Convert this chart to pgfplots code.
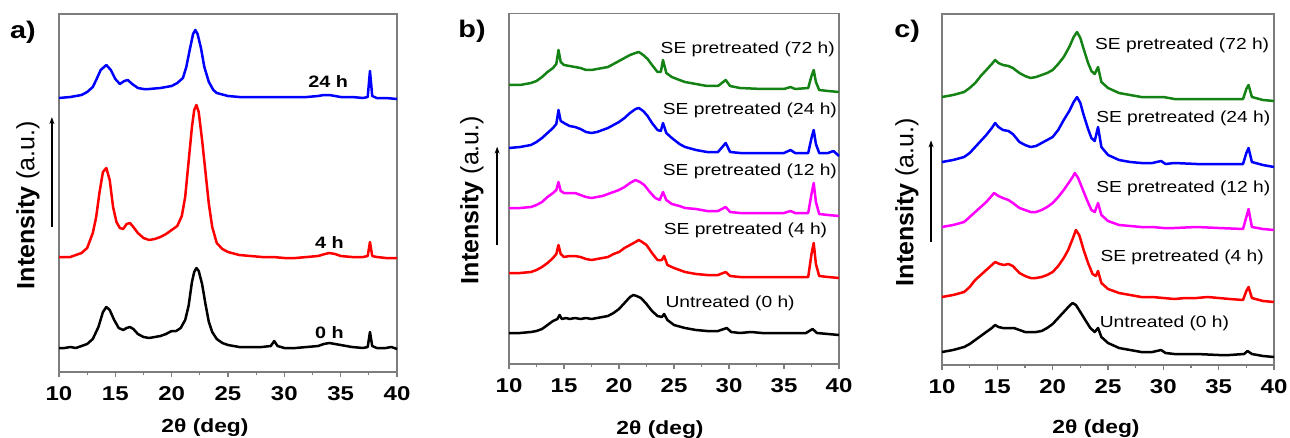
\documentclass[border=0pt]{standalone}
\usepackage{fontspec}
\setmainfont{Liberation Sans}[FakeStretch=1.2]
\newfontfamily\ylfont{Liberation Sans}
\usepackage{pgfplots}
\pgfplotsset{compat=1.18}
\usetikzlibrary{arrows.meta}
\definecolor{framegray}{RGB}{125,125,125}
\definecolor{cgreen}{RGB}{20,130,20}
\definecolor{cblue}{RGB}{0,0,255}
\definecolor{cred}{RGB}{255,0,0}
\definecolor{cmag}{RGB}{255,0,255}
\tikzset{lbl/.style={font=\fontsize{16}{16}\selectfont, anchor=center},
  blbl/.style={font=\bfseries\fontsize{16.5}{16}\selectfont, anchor=center}}
\pgfplotsset{
  xrd/.style={
    scale only axis, clip=false,
    xmin=10, xmax=40, ymin=0,
    xtick={10,15,...,40}, minor x tick num=1, ytick=\empty,
    xtick pos=left, tick align=outside,
    major tick length=5pt, minor tick length=3pt,
    axis line style={framegray, line width=1.6pt},
    every tick/.style={framegray, line width=1.3pt},
    /pgf/number format/assume math mode=true,
    xticklabel style={font=\bfseries\fontsize{20}{20}\selectfont, anchor=base, yshift=-23pt},
    xlabel={\bfseries 2θ (deg)},
    xlabel style={font=\fontsize{19}{19}\selectfont, at={(axis description cs:0.5,0)}, anchor=base},
    ylabel={{\bfseries Intensity} (a.u.)},
    ylabel style={font=\ylfont\fontsize{25}{25}\selectfont, anchor=center},
    every axis plot/.append style={line width=2.5pt, line join=round},
  }
}
\begin{document}
\begin{tikzpicture}
\useasboundingbox (0,0) rectangle (1290pt,437pt);
% ---------------- panel a ----------------
\begin{axis}[xrd, at={(59pt,65pt)}, anchor=south west,
  width=338pt, height=358pt, ymax=358,
  xlabel style={yshift=-60pt, xshift=-23pt},
  ylabel style={at={(axis description cs:-0.0917,0.466)}}]
\addplot[black] coordinates {(10,24)(10.5,24)(11,25)(11.5,24)(12,26)(12.5,28)(13,33)(13.5,45)(13.9,60)(14.2,65)(14.5,62)(14.9,52)(15.3,44)(15.7,42)(16.0,44)(16.3,45)(16.6,43)(17,38)(17.5,35)(18,34)(18.5,35)(19,36)(19.5,38)(20,41)(20.4,41)(20.8,44)(21.2,52)(21.5,66)(21.8,90)(22.0,100)(22.2,104)(22.4,101)(22.7,88)(23,68)(23.3,50)(23.6,40)(24,33)(24.5,29)(25,27)(26,25)(27,25)(28,25)(28.8,26)(29.1,31)(29.4,26)(30,24)(31,24)(32,25)(33,26)(33.5,28)(34,29)(34.5,28)(35,27)(36,25)(37,24)(37.4,25)(37.6,40)(37.8,26)(38.2,24)(39,24)(39.5,25)(40,23)};
\addplot[cred] coordinates {(10,115)(11,115)(12,119)(12.5,124)(13,139)(13.3,155)(13.6,180)(13.9,200)(14.2,204)(14.5,192)(14.8,165)(15.1,150)(15.4,144)(15.7,143)(16.0,148)(16.3,149)(16.6,145)(17,139)(17.5,134)(18,132)(18.5,133)(19,135)(19.5,138)(20,142)(20.5,146)(20.9,156)(21.2,175)(21.5,210)(21.8,245)(22.0,262)(22.2,267)(22.4,260)(22.7,232)(23.0,200)(23.3,168)(23.6,145)(24,129)(24.5,123)(25,120)(26,117)(27,116)(28,115)(29,115)(30,114)(31,114)(32,115)(33,116)(33.6,118)(34,119)(34.5,118)(35,116)(36,115)(37,115)(37.4,116)(37.6,130)(37.8,116)(38.2,115)(39,114)(40,114)};
\addplot[cblue] coordinates {(10,274)(11,275)(12,277)(12.5,280)(13,285)(13.3,292)(13.7,302)(14.2,307)(14.6,302)(15,293)(15.4,288)(15.8,291)(16.1,292)(16.5,288)(17,284)(17.5,283)(18,283)(19,284)(20,286)(20.5,289)(21,294)(21.3,305)(21.6,322)(21.9,338)(22.1,342)(22.3,338)(22.6,324)(22.9,305)(23.3,290)(23.7,282)(24,279)(25,276)(26,275)(28,275)(30,275)(32,275)(33,276)(33.5,277)(34,277)(35,275)(36,275)(37,274)(37.4,275)(37.6,301)(37.8,276)(38.2,274)(39,274)(40,273)};
\node[blbl] at (axis cs:33.9,290) {24 h};
\node[blbl] at (axis cs:34.0,129) {4 h};
\node[blbl] at (axis cs:34.0,39) {0 h};
\draw[black, line width=1.3pt, -{Stealth[length=7pt,width=5pt]}] (axis description cs:-0.021,0.405) -- (axis description cs:-0.021,0.712);
\node[font=\bfseries\fontsize{24}{24}\selectfont] at (axis description cs:-0.107,0.95) {a)};
\end{axis}
% ---------------- panel b ----------------
\begin{axis}[xrd, at={(509pt,73pt)}, anchor=south west,
  width=330pt, height=350.5pt, ymax=350.5,
  xlabel style={yshift=-70pt, xshift=-14pt},
  ylabel style={at={(axis description cs:-0.1121,0.468)}}]
\addplot[black] coordinates {(10,31)(11,31)(12,32)(12.5,33)(13,35)(13.5,39)(14,43)(14.4,45)(14.6,49)(14.8,45)(15.2,46)(15.5,45)(16,46)(16.5,45)(17,46)(17.5,45)(18,46)(18.5,47)(19,48)(19.5,51)(20,55)(20.5,61)(21,67)(21.3,69)(21.6,68)(22,66)(22.5,60)(23,53)(23.5,48)(23.9,47)(24.1,50)(24.4,44)(25,39)(26,36)(27,34)(28,33)(29,33)(29.8,36)(30.2,32)(31,31)(32,32)(33,31)(34,31)(35,31)(36,31)(37,31)(37.6,35)(38,31)(39,30)(40,29)};
\addplot[cred] coordinates {(10,91)(11,91)(12,92)(12.5,94)(13,97)(13.5,101)(14,106)(14.3,110)(14.5,119)(14.7,110)(15,107)(15.5,108)(16,108)(16.5,107)(17,105)(17.5,104)(18,105)(18.5,106)(19,107)(19.5,110)(20,112)(20.5,116)(21,119)(21.5,122)(21.8,124)(22.1,122)(22.5,119)(23,111)(23.5,104)(23.9,104)(24.1,108)(24.4,99)(25,96)(26,92)(27,90)(28,89)(29,89)(29.7,92)(30.1,88)(31,87)(33,87)(35,87)(36,87)(37.2,87)(37.5,110)(37.7,121)(37.9,100)(38.2,88)(39,87)(40,86)};
\addplot[cmag] coordinates {(10,156)(11,156)(12,157)(12.5,159)(13,162)(13.5,167)(14,171)(14.3,174)(14.5,182)(14.7,173)(15,171)(15.5,171)(16,171)(16.5,169)(17,167)(17.5,166)(18,167)(18.5,168)(19,170)(19.5,172)(20,174)(20.5,177)(21,181)(21.5,184)(21.9,182)(22.3,179)(22.8,172)(23.3,166)(23.7,164)(24,172)(24.3,164)(24.8,160)(25.5,158)(26,156)(27,155)(28,153)(29,153)(29.7,157)(30.1,152)(31,151)(33,151)(35,151)(35.6,153)(36,151)(37.2,151)(37.5,170)(37.7,181)(37.9,162)(38.2,150)(39,149)(40,148)};
\addplot[cblue] coordinates {(10,216)(11,217)(12,219)(12.5,222)(13,226)(13.5,231)(14,236)(14.3,240)(14.5,254)(14.7,243)(15,241)(15.5,238)(16,237)(16.5,235)(17,232)(17.5,231)(18,232)(18.5,234)(19,236)(19.5,239)(20,242)(20.5,246)(21,251)(21.5,255)(21.8,256)(22.2,253)(22.6,248)(23,241)(23.5,234)(23.8,233)(24,241)(24.3,231)(24.8,226)(25.5,220)(26,217)(27,214)(28,212)(29,212)(29.7,221)(30.1,212)(31,211)(33,211)(35,211)(35.6,214)(36,211)(37.2,211)(37.5,226)(37.7,234)(37.9,220)(38.2,211)(39,211)(39.5,213)(40,208)};
\addplot[cgreen] coordinates {(10,279)(11,279)(12,281)(12.5,283)(13,287)(13.5,292)(14,296)(14.3,300)(14.5,314)(14.7,302)(15,299)(15.5,298)(16,297)(16.5,296)(17,294)(17.5,294)(18,295)(18.5,296)(19,297)(19.5,300)(20,303)(20.5,306)(21,309)(21.5,311)(21.8,312)(22.2,309)(22.6,305)(23,299)(23.5,292)(23.8,292)(24,304)(24.3,291)(24.8,287)(25.5,284)(26,282)(27,280)(28,278)(29,278)(29.7,284)(30.1,278)(31,276)(33,275)(35,275)(35.6,277)(36,275)(37.2,276)(37.5,288)(37.7,294)(37.9,282)(38.2,274)(39,273)(40,272)};
\node[lbl] at (axis cs:31.7,315) {SE pretreated (72 h)};
\node[lbl] at (axis cs:31.9,254) {SE pretreated (24 h)};
\node[lbl] at (axis cs:31.9,193) {SE pretreated (12 h)};
\node[lbl] at (axis cs:31.5,134) {SE pretreated (4 h)};
\node[lbl] at (axis cs:30.1,61) {Untreated (0 h)};
\draw[black, line width=1.3pt, -{Stealth[length=7pt,width=5pt]}] (axis description cs:-0.036,0.339) -- (axis description cs:-0.036,0.62);
\node[font=\bfseries\fontsize{24}{24}\selectfont] at (axis description cs:-0.112,0.95) {b)};
\end{axis}
% ---------------- panel c ----------------
\begin{axis}[xrd, at={(942pt,72pt)}, anchor=south west,
  width=332pt, height=351pt, ymax=351,
  xlabel style={yshift=-68pt, xshift=-12pt},
  ylabel style={at={(axis description cs:-0.1054,0.464)}}]
\addplot[black] coordinates {(10,13)(11,15)(12,18)(12.5,21)(13,25)(13.5,29)(14,33)(14.5,37)(14.8,40)(15.1,38)(15.5,37)(16,37)(16.5,37)(17,35)(17.5,33)(18,33)(18.5,33)(19,34)(19.5,37)(20,41)(20.5,47)(21,53)(21.5,59)(21.8,62)(22.1,60)(22.5,53)(23,44)(23.4,37)(23.8,33)(24.1,37)(24.4,28)(25,22)(26,17)(27,15)(28,13)(29,13)(29.8,15)(30.2,12)(31,11)(33,11)(35,10)(36,10)(37.3,11)(37.6,14)(38,11)(39,9)(40,8)};
\addplot[cred] coordinates {(10,68)(11,70)(12,73)(12.5,78)(13,85)(13.5,90)(14,95)(14.5,100)(14.8,103)(15.2,101)(15.6,100)(16,101)(16.4,99)(17,92)(17.5,89)(18,87)(18.5,87)(19,88)(19.5,90)(20,93)(20.5,99)(21,107)(21.4,115)(21.8,126)(22.1,135)(22.4,130)(22.8,115)(23.2,102)(23.6,91)(23.9,89)(24.1,94)(24.4,82)(25,76)(26,72)(27,70)(28,68)(29,68)(30,67)(31,66)(32,67)(33,67)(34,68)(35,67)(36,66)(37.2,65)(37.5,74)(37.7,78)(38,67)(39,64)(40,63)};
\addplot[cmag] coordinates {(10,138)(11,140)(12,143)(12.5,148)(13,153)(13.5,158)(14,163)(14.4,168)(14.7,172)(15.1,169)(15.5,167)(16,165)(16.4,162)(17,157)(17.5,155)(18,153)(18.5,153)(19,155)(19.5,158)(20,162)(20.5,168)(21,175)(21.5,183)(21.8,188)(22.0,192)(22.3,187)(22.7,176)(23.1,165)(23.5,155)(23.8,153)(24.1,162)(24.4,150)(25,144)(26,140)(27,139)(28,138)(29,138)(30,137)(31,137)(33,138)(35,137)(37.2,136)(37.5,148)(37.7,156)(38,138)(39,136)(40,135)};
\addplot[cblue] coordinates {(10,203)(11,205)(12,208)(12.5,212)(13,218)(13.5,224)(14,230)(14.5,237)(14.8,242)(15.1,238)(15.5,235)(16,234)(16.4,231)(17,223)(17.5,220)(18,218)(18.5,219)(19,222)(19.5,225)(20,228)(20.5,235)(21,245)(21.5,254)(21.9,263)(22.2,268)(22.5,262)(22.8,250)(23.2,236)(23.5,227)(23.8,224)(24.1,238)(24.4,218)(25,210)(26,205)(27,203)(28,202)(29,202)(29.8,204)(30.2,201)(31,202)(33,201)(35,201)(37.2,201)(37.5,212)(37.7,217)(38,203)(39,200)(40,198)};
\addplot[cgreen] coordinates {(10,268)(11,270)(12,273)(12.5,277)(13,282)(13.5,289)(14,295)(14.5,301)(14.8,305)(15.1,302)(15.5,300)(16,299)(16.4,297)(17,292)(17.5,289)(18,287)(18.5,288)(19,290)(19.5,292)(20,295)(20.5,301)(21,308)(21.5,318)(21.9,328)(22.2,333)(22.5,327)(22.8,316)(23.2,302)(23.5,294)(23.8,291)(24.1,298)(24.4,283)(25,277)(26,272)(27,270)(28,268)(29,268)(30,268)(31,266)(33,266)(35,266)(37.2,266)(37.5,276)(37.7,280)(38,268)(39,265)(40,264)};
\node[lbl] at (axis cs:31.7,320) {SE pretreated (72 h)};
\node[lbl] at (axis cs:31.8,247) {SE pretreated (24 h)};
\node[lbl] at (axis cs:31.8,177) {SE pretreated (12 h)};
\node[lbl] at (axis cs:31.7,108) {SE pretreated (4 h)};
\node[lbl] at (axis cs:30.1,42) {Untreated (0 h)};
\draw[black, line width=1.3pt, -{Stealth[length=7pt,width=5pt]}] (axis description cs:-0.033,0.35) -- (axis description cs:-0.033,0.64);
\node[font=\bfseries\fontsize{24}{24}\selectfont] at (axis description cs:-0.105,0.95) {c)};
\end{axis}
\end{tikzpicture}
\end{document}
